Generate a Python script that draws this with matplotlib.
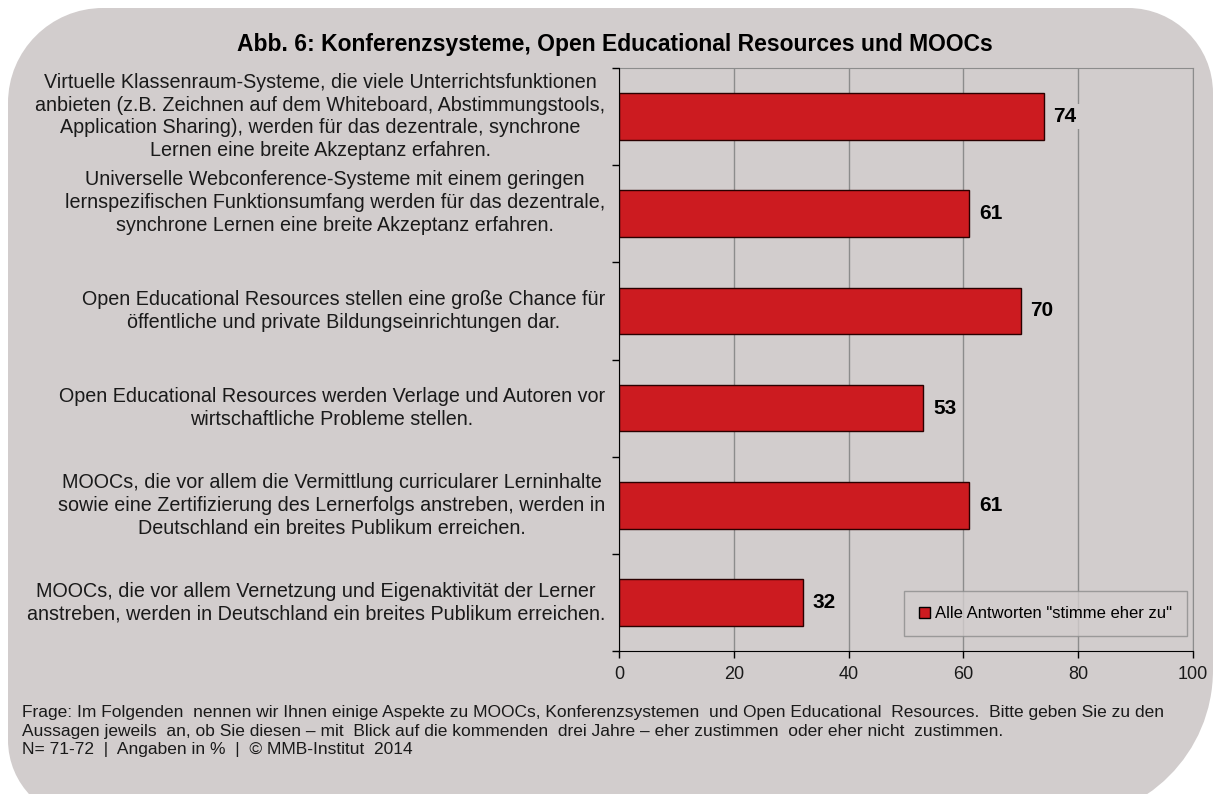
import matplotlib
matplotlib.use("Agg")
import matplotlib.pyplot as plt
from matplotlib.path import Path
from matplotlib.patches import PathPatch, Patch

# ---- data -----------------------------------------------------------------
statements = [
    "Virtuelle Klassenraum-Systeme, die viele Unterrichtsfunktionen\n"
    "anbieten (z.B. Zeichnen auf dem Whiteboard, Abstimmungstools,\n"
    "Application Sharing), werden für das dezentrale, synchrone\n"
    "Lernen eine breite Akzeptanz erfahren.",
    "Universelle Webconference-Systeme mit einem geringen\n"
    "lernspezifischen Funktionsumfang werden für das dezentrale,\n"
    "synchrone Lernen eine breite Akzeptanz erfahren.\n",
    "Open Educational Resources stellen eine große Chance für\n"
    "öffentliche und private Bildungseinrichtungen dar.",
    "Open Educational Resources werden Verlage und Autoren vor\n"
    "wirtschaftliche Probleme stellen.",
    "MOOCs, die vor allem die Vermittlung curricularer Lerninhalte\n"
    "sowie eine Zertifizierung des Lernerfolgs anstreben, werden in\n"
    "Deutschland ein breites Publikum erreichen.",
    "MOOCs, die vor allem Vernetzung und Eigenaktivität der Lerner\n"
    "anstreben, werden in Deutschland ein breites Publikum erreichen.",
]
agree = [74, 61, 70, 53, 61, 32]
x_ticks = [0, 20, 40, 60, 80, 100]

title = "Abb. 6: Konferenzsysteme, Open Educational Resources und MOOCs"
series_label = 'Alle Antworten "stimme eher zu"'
footer = ("Frage: Im Folgenden  nennen wir Ihnen einige Aspekte zu MOOCs, Konferenzsystemen  und Open Educational  "
          "Resources.  Bitte geben Sie zu den\n"
          "Aussagen jeweils  an, ob Sie diesen – mit  Blick auf die kommenden  drei Jahre – eher zustimmen  oder eher nicht  zustimmen.\n"
          "N= 71-72  |  Angaben in %  |  © MMB-Institut  2014")

BG = "#d2cdcd"
RED = "#cc1b20"
GRID = "#8c8c8c"

plt.rcParams["font.family"] = ["Liberation Sans", "DejaVu Sans"]

W, H = 1215, 794
fig = plt.figure(figsize=(W / 100, H / 100), dpi=100, facecolor="white")


def rounded_box(x0, y0, x1, y1, tl, tr, br, bl):
    """Closed path with individual corner radii, pixel coords (y down) -> figure fraction."""
    k = 0.5523
    pts = [(x0 + tl, y0), (x1 - tr, y0),
           (x1 - tr + k * tr, y0), (x1, y0 + tr - k * tr), (x1, y0 + tr),
           (x1, y1 - br),
           (x1, y1 - br + k * br), (x1 - br + k * br, y1), (x1 - br, y1),
           (x0 + bl, y1),
           (x0 + bl - k * bl, y1), (x0, y1 - bl + k * bl), (x0, y1 - bl),
           (x0, y0 + tl),
           (x0, y0 + tl - k * tl), (x0 + tl - k * tl, y0), (x0 + tl, y0),
           (x0 + tl, y0)]
    codes = ([Path.MOVETO, Path.LINETO] + [Path.CURVE4] * 3 + [Path.LINETO] + [Path.CURVE4] * 3
             + [Path.LINETO] + [Path.CURVE4] * 3 + [Path.LINETO] + [Path.CURVE4] * 3 + [Path.CLOSEPOLY])
    pts = [(x / W, 1 - y / H) for x, y in pts]
    return Path(pts, codes)


fig.patches.append(PathPatch(rounded_box(8, 8, 1213, 820, 95, 85, 150, 80),
                             transform=fig.transFigure, facecolor=BG, edgecolor="none", zorder=-5))

ax = fig.add_axes([619 / W, 1 - 651 / H, (1193 - 619) / W, (651 - 68) / H])
ax.set_facecolor("none")

ypos = list(range(len(agree)))
ax.barh(ypos, agree, height=0.48, color=RED, edgecolor="#2a0000", linewidth=1.0, zorder=3,
        label=series_label)
ax.set_xlim(0, 100)
ax.set_ylim(len(agree) - 0.5, -0.5)

for y, v in zip(ypos, agree):
    ax.annotate(f"{v}", xy=(v, y), xytext=(7, 0), textcoords="offset points",
                ha="left", va="center", fontsize=15, fontweight="bold", zorder=4,
                bbox=dict(boxstyle="square,pad=0.15", facecolor=BG, edgecolor="none"))

for y, s in zip(ypos, statements):
    ax.annotate(s, xy=(0, y), xycoords=("axes fraction", "data"), xytext=(-10, 0),
                textcoords="offset points", ha="right", va="center", multialignment="center",
                fontsize=14.2, linespacing=1.25, color="#1a1a1a")

# axes styling
ax.set_xticks(x_ticks)
ax.set_xticklabels([str(t) for t in x_ticks], fontsize=13, color="#1a1a1a")
ax.set_yticks([y - 0.5 for y in ypos] + [len(agree) - 0.5])
ax.set_yticklabels([])
ax.tick_params(axis="both", direction="out", length=5, width=1, color="black")
ax.tick_params(axis="x", pad=6)
ax.grid(axis="x", color=GRID, linewidth=1, zorder=1)
ax.set_axisbelow(True)
for side in ("top", "right"):
    ax.spines[side].set_color(GRID)
for side in ("left", "bottom"):
    ax.spines[side].set_color("black")
    ax.spines[side].set_zorder(5)

leg = ax.legend(handles=[Patch(facecolor=RED, edgecolor="black", linewidth=1, label=series_label)],
                loc="lower right", bbox_to_anchor=(0.99, 0.025), fontsize=12, frameon=True,
                fancybox=False, handlelength=0.7, handleheight=0.7, handletextpad=0.3,
                borderpad=0.9, borderaxespad=0)
leg.get_frame().set_edgecolor(GRID)
leg.get_frame().set_facecolor(BG)
leg.get_frame().set_linewidth(1)

fig.text(615 / W, 1 - 44 / H, title, ha="center", va="center", fontsize=16.5, fontweight="bold")
fig.text(22 / W, 1 - 705 / H, footer, ha="left", va="top", fontsize=12.5, linespacing=1.3,
         color="#1a1a1a")

fig.savefig("out.png", dpi=100, facecolor="white")
